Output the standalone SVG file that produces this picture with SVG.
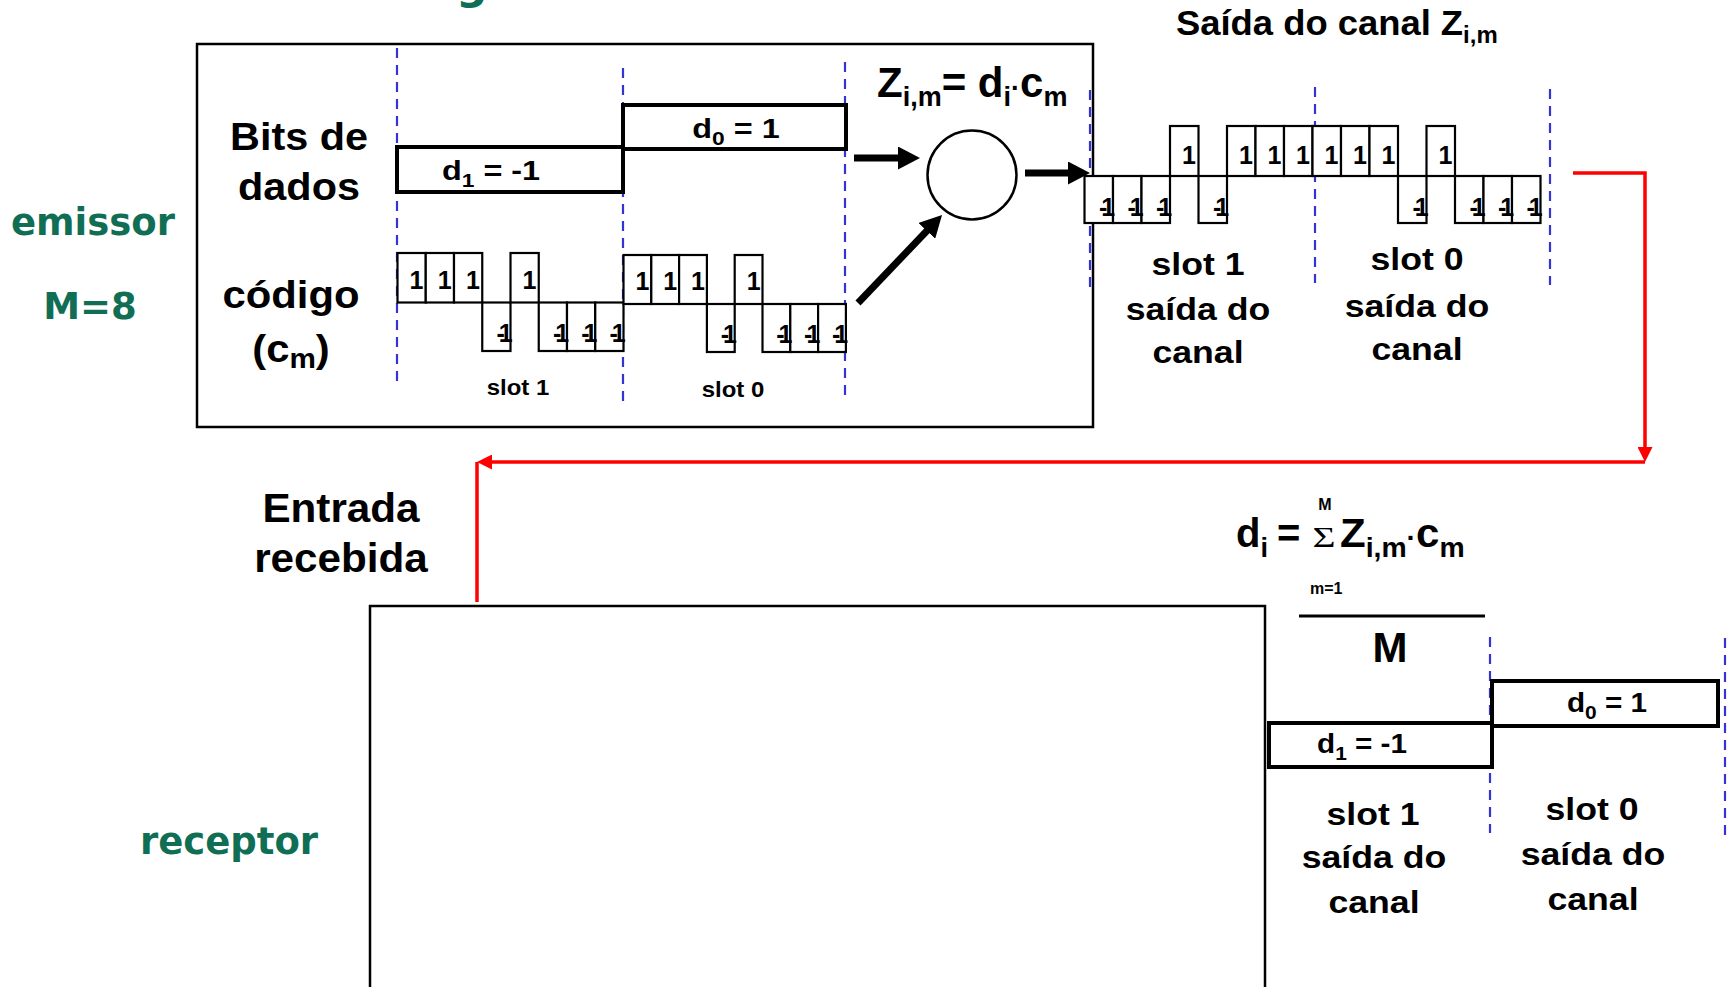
<svg xmlns="http://www.w3.org/2000/svg" width="1730" height="987" viewBox="0 0 1730 987">
<defs>
<style>
.b{font-family:"Liberation Sans",Arial,sans-serif;font-weight:bold;fill:#000}
.g{font-family:"DejaVu Sans",Verdana,sans-serif;font-weight:bold;fill:#106E55}
.sig{font-family:"Liberation Serif","Times New Roman",serif;font-weight:normal;fill:#000}
.box{fill:none;stroke:#000;stroke-width:2.5}
.dbox{fill:#fff;stroke:#000;stroke-width:4}
.chip{fill:#fff;stroke:#000;stroke-width:2.2}
.dash{stroke:#3434D2;stroke-width:2.2;stroke-dasharray:10 7;fill:none}
.cl{font-family:"Liberation Sans",Arial,sans-serif;font-weight:bold;font-size:25px;fill:#000}
.m1{font-family:"Liberation Sans",Arial,sans-serif;font-weight:bold;font-size:25px;fill:#000;letter-spacing:-6px}
.arr{stroke:#000;stroke-width:7;fill:none}
.red{stroke:#FF0000;stroke-width:3.5;fill:none}
</style>
<marker id="ah" markerUnits="userSpaceOnUse" markerWidth="23" markerHeight="23" refX="4" refY="11.5" orient="auto"><path d="M0,0 L22,11.5 L0,23 Z" fill="#000"/></marker>
<marker id="rh" markerUnits="userSpaceOnUse" markerWidth="15" markerHeight="15" refX="2" refY="7.5" orient="auto"><path d="M0,0 L15,7.5 L0,15 Z" fill="#FF0000"/></marker>
</defs>
<rect width="1730" height="987" fill="#fff"/>

<text class="g" font-size="44" x="456" y="-1">g</text>

<g id="emissor-label">
<text class="g" font-size="37" text-anchor="middle" x="93" y="235">emissor</text>
<text class="g" font-size="37" text-anchor="middle" x="90" y="319">M=8</text>
</g>

<g id="emissor">
<rect class="box" x="197" y="44" width="896" height="383" stroke-width="3"/>
<text class="b" font-size="38" text-anchor="middle" transform="translate(299,150) scale(1.09,1)">Bits de</text>
<text class="b" font-size="38" text-anchor="middle" transform="translate(299,200) scale(1.09,1)">dados</text>
<text class="b" font-size="38" text-anchor="middle" transform="translate(291,308) scale(1.1,1)">código</text>
<text class="b" font-size="38" text-anchor="middle" transform="translate(291,362) scale(1.1,1)">(c<tspan font-size="27" dy="6">m</tspan><tspan dy="-6">)</tspan></text>
</g>

<g id="slot-guides">
<line class="dash" x1="397" y1="48" x2="397" y2="388"/>
<line class="dash" x1="623" y1="68" x2="623" y2="407"/>
<line class="dash" x1="845" y1="62" x2="845" y2="402"/>
<line class="dash" x1="1090" y1="90" x2="1090" y2="287"/>
<line class="dash" x1="1315" y1="87" x2="1315" y2="283"/>
<line class="dash" x1="1550" y1="89" x2="1550" y2="285"/>
<line class="dash" x1="1490" y1="637" x2="1490" y2="833"/>
<line class="dash" x1="1725" y1="638" x2="1725" y2="835"/>
</g>

<g id="bits-dados">
<rect class="dbox" x="397" y="147" width="226" height="45"/>
<rect class="dbox" x="623" y="105" width="223" height="44"/>
<text class="b" font-size="27" text-anchor="middle" transform="translate(491,180) scale(1.2,1)">d<tspan font-size="19" dy="7">1</tspan><tspan dy="-7"> = -1</tspan></text>
<text class="b" font-size="27" text-anchor="middle" transform="translate(736,138) scale(1.2,1)">d<tspan font-size="19" dy="7">0</tspan><tspan dy="-7"> = 1</tspan></text>
</g>

<g id="codigo">
<rect class="chip" x="397.5" y="253" width="28.25" height="49.5"/>
<rect class="chip" x="425.75" y="253" width="28.25" height="49.5"/>
<rect class="chip" x="454" y="253" width="28.25" height="49.5"/>
<rect class="chip" x="482.25" y="302.5" width="28.25" height="48.5"/>
<rect class="chip" x="510.5" y="253" width="28.25" height="49.5"/>
<rect class="chip" x="538.75" y="302.5" width="28.25" height="48.5"/>
<rect class="chip" x="567" y="302.5" width="28.25" height="48.5"/>
<rect class="chip" x="595.25" y="302.5" width="28.25" height="48.5"/>
<text class="cl" x="409.5" y="288.5">1</text>
<text class="cl" x="437.75" y="288.5">1</text>
<text class="cl" x="466" y="288.5">1</text>
<text class="cl" x="522.5" y="288.5">1</text>
<text class="m1" x="496.5" y="342">-1</text>
<text class="m1" x="553" y="342">-1</text>
<text class="m1" x="581.25" y="342">-1</text>
<text class="m1" x="609.5" y="342">-1</text>

<rect class="chip" x="623.5" y="255" width="27.8" height="49"/>
<rect class="chip" x="651.3" y="255" width="27.8" height="49"/>
<rect class="chip" x="679.1" y="255" width="27.8" height="49"/>
<rect class="chip" x="706.9" y="304" width="27.8" height="48"/>
<rect class="chip" x="734.7" y="255" width="27.8" height="49"/>
<rect class="chip" x="762.5" y="304" width="27.8" height="48"/>
<rect class="chip" x="790.3" y="304" width="27.8" height="48"/>
<rect class="chip" x="818.1" y="304" width="27.8" height="48"/>
<text class="cl" x="635.5" y="290">1</text>
<text class="cl" x="663.3" y="290">1</text>
<text class="cl" x="691.1" y="290">1</text>
<text class="cl" x="746.7" y="290">1</text>
<text class="m1" x="720.7" y="343">-1</text>
<text class="m1" x="776.3" y="343">-1</text>
<text class="m1" x="804.1" y="343">-1</text>
<text class="m1" x="831.9" y="343">-1</text>

<text class="b" font-size="22" text-anchor="middle" transform="translate(518,395) scale(1.09,1)">slot 1</text>
<text class="b" font-size="22" text-anchor="middle" transform="translate(733,397) scale(1.09,1)">slot 0</text>
</g>

<g id="multiplicador">
<circle cx="972" cy="175" r="44.5" fill="#fff" stroke="#000" stroke-width="2.5"/>
<text class="b" font-size="42" x="877" y="97">Z<tspan font-size="27" dy="9">i,m</tspan><tspan dy="-9">= d</tspan><tspan font-size="27" dy="9">i</tspan><tspan font-size="27" dy="-9">·</tspan>c<tspan font-size="27" dy="9">m</tspan></text>
</g>

<g id="saida-canal">
<text class="b" font-size="35" transform="translate(1176,35) scale(1.04,1)">Saída do canal Z<tspan font-size="23" dy="8">i,m</tspan></text>
<rect class="chip" x="1084.5" y="176" width="28.5" height="47"/>
<rect class="chip" x="1113" y="176" width="28.5" height="47"/>
<rect class="chip" x="1141.5" y="176" width="28.5" height="47"/>
<rect class="chip" x="1170" y="126" width="28.5" height="50"/>
<rect class="chip" x="1198.5" y="176" width="28.5" height="47"/>
<rect class="chip" x="1227" y="126" width="28.5" height="50"/>
<rect class="chip" x="1255.5" y="126" width="28.5" height="50"/>
<rect class="chip" x="1284" y="126" width="28.5" height="50"/>
<rect class="chip" x="1312.5" y="126" width="28.5" height="50"/>
<rect class="chip" x="1341" y="126" width="28.5" height="50"/>
<rect class="chip" x="1369.5" y="126" width="28.5" height="50"/>
<rect class="chip" x="1398" y="176" width="28.5" height="47"/>
<rect class="chip" x="1426.5" y="126" width="28.5" height="50"/>
<rect class="chip" x="1455" y="176" width="28.5" height="47"/>
<rect class="chip" x="1483.5" y="176" width="28.5" height="47"/>
<rect class="chip" x="1512" y="176" width="28.5" height="47"/>
<text class="m1" x="1099" y="216">-1</text>
<text class="m1" x="1127.5" y="216">-1</text>
<text class="m1" x="1156" y="216">-1</text>
<text class="m1" x="1213" y="216">-1</text>
<text class="cl" x="1182" y="164">1</text>
<text class="cl" x="1239" y="164">1</text>
<text class="cl" x="1267.5" y="164">1</text>
<text class="cl" x="1296" y="164">1</text>
<text class="cl" x="1324.5" y="164">1</text>
<text class="cl" x="1353" y="164">1</text>
<text class="cl" x="1381.5" y="164">1</text>
<text class="cl" x="1438.5" y="164">1</text>
<text class="m1" x="1412.5" y="216">-1</text>
<text class="m1" x="1469.5" y="216">-1</text>
<text class="m1" x="1498" y="216">-1</text>
<text class="m1" x="1526.5" y="216">-1</text>
<text class="b" font-size="31" text-anchor="middle" transform="translate(1198,275) scale(1.15,1)">slot 1</text>
<text class="b" font-size="31" text-anchor="middle" transform="translate(1198,320) scale(1.15,1)">saída do</text>
<text class="b" font-size="31" text-anchor="middle" transform="translate(1198,363) scale(1.15,1)">canal</text>
<text class="b" font-size="31" text-anchor="middle" transform="translate(1417,270) scale(1.15,1)">slot 0</text>
<text class="b" font-size="31" text-anchor="middle" transform="translate(1417,317) scale(1.15,1)">saída do</text>
<text class="b" font-size="31" text-anchor="middle" transform="translate(1417,360) scale(1.15,1)">canal</text>
</g>

<g id="receptor-label">
<text class="g" font-size="37" text-anchor="middle" x="229" y="854">receptor</text>
<text class="b" font-size="41" text-anchor="middle" transform="translate(341,522) scale(1.03,1)">Entrada</text>
<text class="b" font-size="41" text-anchor="middle" transform="translate(341,572) scale(1.03,1)">recebida</text>
</g>

<g id="receptor">
<rect class="box" x="370" y="606" width="895" height="400"/>
</g>

<g id="formula">
<text class="b" font-size="40" x="1236" y="547">d<tspan font-size="27" dy="10">i</tspan></text>
<text class="b" font-size="40" x="1277" y="547">=</text>
<text class="sig" font-size="36" text-anchor="middle" transform="translate(1324,547) scale(1.1,0.8)">Σ</text>
<text class="b" font-size="16" text-anchor="middle" x="1325" y="510">M</text>
<text class="b" font-size="40" transform="translate(1340,547) scale(1.05,1)">Z<tspan font-size="27" dy="10">i,m</tspan><tspan font-size="27" dy="-10">·</tspan>c<tspan font-size="27" dy="10">m</tspan></text>
<text class="b" font-size="16" x="1310" y="594">m=1</text>
<line x1="1299" y1="616" x2="1485" y2="616" stroke="#000" stroke-width="3"/>
<text class="b" font-size="42" text-anchor="middle" x="1390" y="662">M</text>
</g>

<g id="bits-recebidos">
<rect class="dbox" x="1269" y="723" width="223" height="44"/>
<rect class="dbox" x="1492" y="681" width="226" height="45"/>
<text class="b" font-size="27" text-anchor="middle" transform="translate(1362,753) scale(1.1,1)">d<tspan font-size="19" dy="7">1</tspan><tspan dy="-7"> = -1</tspan></text>
<text class="b" font-size="27" text-anchor="middle" transform="translate(1607,712) scale(1.1,1)">d<tspan font-size="19" dy="7">0</tspan><tspan dy="-7"> = 1</tspan></text>
<text class="b" font-size="31" text-anchor="middle" transform="translate(1373,825) scale(1.15,1)">slot 1</text>
<text class="b" font-size="31" text-anchor="middle" transform="translate(1374,868) scale(1.15,1)">saída do</text>
<text class="b" font-size="31" text-anchor="middle" transform="translate(1374,913) scale(1.15,1)">canal</text>
<text class="b" font-size="31" text-anchor="middle" transform="translate(1592,820) scale(1.15,1)">slot 0</text>
<text class="b" font-size="31" text-anchor="middle" transform="translate(1593,865) scale(1.15,1)">saída do</text>
<text class="b" font-size="31" text-anchor="middle" transform="translate(1593,910) scale(1.15,1)">canal</text>
</g>

<g id="connectors">
<line class="arr" x1="854" y1="158" x2="902" y2="158" marker-end="url(#ah)"/>
<line class="arr" x1="858" y1="303" x2="929.6" y2="228" marker-end="url(#ah)"/>
<line class="arr" x1="1025" y1="173" x2="1072" y2="173" marker-end="url(#ah)"/>
<polyline class="red" points="1573,173 1645,173 1645,449" marker-end="url(#rh)"/>
<polyline class="red" points="1645,462 490,462" marker-end="url(#rh)"/>
<line class="red" x1="477" y1="462" x2="477" y2="602"/>
</g>
</svg>
